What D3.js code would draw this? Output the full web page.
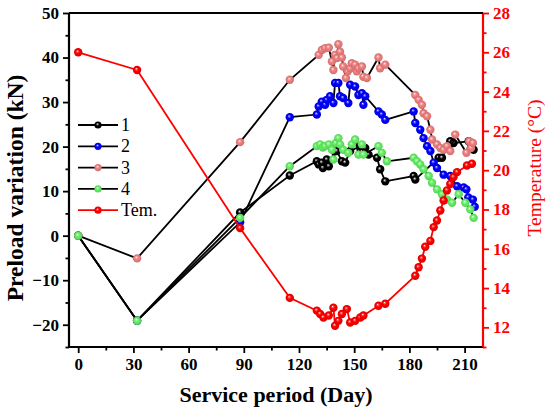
<!DOCTYPE html>
<html>
<head>
<meta charset="utf-8">
<script src="https://cdn.jsdelivr.net/npm/d3@7"></script>
<style>
  body { margin: 0; background: #fff; }
  text { font-family: "Liberation Serif", "Times New Roman", serif; }
</style>
</head>
<body>
<svg id="chart"></svg>
<script>
var width = 550;
var height = 413;

// series 1 (black markers)
var days1 = [0, 32, 88, 115, 129.7, 130.7, 132.4, 133, 135.1, 136.2, 140.6, 143.3, 145.1, 147.8, 153.3, 156, 157.8, 162.4, 164.1, 166.9, 182.3, 183.2, 195.9, 197.7, 202.2, 204, 212.2, 214, 214.9];
var vals1 = [0, -19.1, 5.2, 13.5, 16.7, 16.0, 16.4, 15.2, 17.1, 15.6, 19.0, 16.7, 16.4, 19.0, 20.1, 19.7, 18.2, 17.5, 14.9, 12.2, 13.4, 12.6, 17.5, 17.5, 21.2, 20.8, 21.2, 20.5, 19.3];

// series 2 (blue)
var days2 = [0, 32, 88, 115, 129.7, 130.7, 132.4, 134.2, 135.1, 136.9, 138.7, 139.6, 141.4, 142.3, 144, 146.8, 147.8, 150.5, 152.3, 154.2, 155, 156, 163.2, 165, 166.9, 182.3, 183.2, 185.9, 187.7, 189.6, 191.4, 193.2, 195, 198.6, 202.2, 205.9, 209.5, 211, 212, 214.5, 215.5];
var vals2 = [0, -19.1, 3.0, 26.6, 27.2, 29.0, 30.1, 29.4, 30.5, 31.3, 29.8, 34.3, 34.3, 31.3, 30.9, 29.8, 33.9, 33.5, 31.6, 32.0, 29.4, 31.3, 27.9, 27.2, 26.0, 27.9, 25.3, 23.8, 21.9, 20.1, 19.0, 16.4, 15.2, 13.7, 13.4, 11.1, 10.8, 10.4, 8.6, 8.1, 6.5];

// series 3 (pink)
var days3 = [0, 32, 88, 115, 130.7, 132.4, 134.2, 136.2, 137.9, 138.7, 139.5, 140.6, 141.4, 142.3, 143.3, 144, 145.5, 146.5, 147.8, 148.7, 150.5, 151.4, 152.3, 154.2, 155, 156.9, 163.2, 164.1, 166.9, 183.2, 185, 186.8, 187.7, 189.6, 191.4, 192.3, 195, 196.8, 198.6, 200.4, 202.2, 204.9, 211, 212.5, 213.5, 214.5];
var vals3 = [0, -5.1, 21.0, 35.0, 40.6, 41.7, 42.1, 42.2, 39.1, 37.2, 40.6, 39.9, 43.0, 41.3, 40.0, 38.0, 35.4, 36.9, 37.6, 38.7, 38.4, 36.9, 37.6, 38.0, 35.7, 35.4, 40.0, 37.6, 38.4, 31.6, 30.5, 29.4, 27.5, 26.8, 23.8, 21.6, 20.5, 19.7, 19.3, 20.1, 19.0, 22.7, 18.6, 21.2, 19.7, 20.8];

// series 4 (green)
var days4 = [0, 32, 88, 115, 129.7, 131.5, 133, 134.2, 136.2, 137.9, 138.7, 140, 141.4, 142.3, 144, 146.8, 148.7, 150.5, 152.3, 154.2, 155, 163.2, 165, 167.8, 182.3, 184.1, 185.9, 187.7, 190.5, 192.3, 195, 197.7, 200.4, 203.2, 206.8, 210.4, 213.1, 214.9];
var vals4 = [0, -19.1, 4.0, 15.6, 20.1, 20.5, 19.8, 20.1, 20.5, 19.3, 17.1, 20.8, 21.9, 20.5, 19.3, 18.6, 20.5, 21.6, 18.2, 20.5, 18.2, 20.1, 18.6, 16.7, 17.5, 16.7, 16.0, 14.9, 13.4, 11.9, 10.4, 9.3, 8.1, 7.4, 9.3, 7.4, 5.9, 4.0];

// temperature (right axis)
var daysT = [0, 32, 88, 115, 129.7, 131.5, 133.3, 136.2, 138.7, 139.6, 141.4, 143.3, 146, 147.8, 150.5, 153.3, 155, 163.2, 166.9, 183.2, 185, 186.8, 188.6, 191.4, 193.2, 195, 196.8, 198.6, 200.4, 202.2, 204, 205.9, 211.3, 214];
var valsT = [26.0, 25.1, 17.05, 13.5, 12.85, 12.68, 12.5, 12.6, 13.0, 12.08, 12.33, 12.68, 12.93, 12.25, 12.33, 12.5, 12.6, 13.1, 13.2, 14.63, 15.06, 15.5, 16.1, 16.4, 17.1, 17.44, 17.95, 18.46, 18.97, 19.3, 19.65, 19.9, 20.24, 20.33];

var xTicks = [0, 30, 60, 90, 120, 150, 180, 210];
var yTicks = [-20, -10, 0, 10, 20, 30, 40, 50];
var tTicks = [12, 14, 16, 18, 20, 22, 24, 26, 28];
var legendLabels = ['1', '2', '3', '4', 'Tem.'];
var colors = ['#000000', '#0000ff', '#f08080', '#66f066', '#ff0000'];

var padL = 69, padR = 483, padT = 13, padB = 347;

var svg = d3.select('#chart').attr('width', width).attr('height', height);

var x = d3.scaleLinear().domain([-5, 220]).range([padL, padR]);
var y = d3.scaleLinear().domain([-25, 50]).range([padB, padT]);
var yT = d3.scaleLinear().domain([11, 28]).range([padB, padT]);

// gradients for the shiny ball markers
var defs = svg.append('defs');
colors.forEach(function(c, i) {
  var g = defs.append('radialGradient').attr('id', 'ball' + i)
    .attr('cx', '50%').attr('cy', '50%').attr('r', '50%')
    .attr('fx', '40%').attr('fy', '35%');
  g.append('stop').attr('offset', '0%').attr('stop-color', '#ffffff');
  g.append('stop').attr('offset', '18%').attr('stop-color', i == 0 ? '#888' : d3.interpolateRgb(c, '#fff')(0.4));
  g.append('stop').attr('offset', '45%').attr('stop-color', c);
  g.append('stop').attr('offset', '100%').attr('stop-color', d3.color(c).darker(0.4));
});

// axes
var xAxis = d3.axisBottom(x).tickValues(d3.range(0, 220, 15)).tickSize(5).tickPadding(6)
  .tickFormat(function(d) { return xTicks.indexOf(d) >= 0 ? d : ''; });
var gx = svg.append('g').attr('transform', 'translate(0,' + padB + ')').call(xAxis);
gx.selectAll('.tick line').attr('y2', function(d) { return d % 30 == 0 ? 6 : 3.5; });

var yAxis = d3.axisLeft(y).tickValues(d3.range(-25, 51, 5)).tickSize(6).tickPadding(4)
  .tickFormat(function(d) { return yTicks.indexOf(d) >= 0 ? (d < 0 ? '\u2212' + (-d) : d) : ''; });
var gy = svg.append('g').attr('transform', 'translate(' + padL + ',0)').call(yAxis);
gy.selectAll('.tick line').attr('x2', function(d) { return d % 10 == 0 ? -6 : -3.5; });

var tAxis = d3.axisRight(yT).tickValues(d3.range(11, 28.1, 1)).tickSize(6).tickPadding(4)
  .tickFormat(function(d) { return tTicks.indexOf(d) >= 0 ? d : ''; });
var gt = svg.append('g').attr('transform', 'translate(' + padR + ',0)').call(tAxis);
gt.selectAll('.tick line').attr('x2', function(d) { return d % 2 == 0 ? 6 : 3.5; });

[gx, gy, gt].forEach(function(g) {
  g.selectAll('text').style('font-family', '"Liberation Serif", serif')
    .style('font-size', '17px').style('font-weight', 'bold');
  g.select('.domain').attr('stroke-width', 2.2);
  g.selectAll('.tick line').attr('stroke-width', 1.8);
});
gt.select('.domain').attr('stroke', '#ff0000');
gt.selectAll('.tick line').attr('stroke', '#ff0000');
gt.selectAll('text').attr('fill', '#ff0000');
gx.select('.domain').attr('d', 'M' + padL + ',0H' + padR);
gy.select('.domain').attr('d', 'M0,' + padT + 'V' + padB);
gt.select('.domain').attr('d', 'M0,' + padT + 'V' + padB);

// top frame line
svg.append('line').attr('x1', padL).attr('x2', padR).attr('y1', padT).attr('y2', padT)
  .attr('stroke', '#000').attr('stroke-width', 2.2);

// axis titles
svg.append('text').attr('x', (padL + padR) / 2).attr('y', 402)
  .attr('text-anchor', 'middle').style('font-size', '22px').style('font-weight', 'bold')
  .text('Service period (Day)');
svg.append('text').attr('transform', 'translate(23,188) rotate(-90)')
  .attr('text-anchor', 'middle').style('font-size', '23.5px').style('font-weight', 'bold')
  .text('Preload variation (kN)');
svg.append('text').attr('transform', 'translate(541,168) rotate(-90)')
  .attr('text-anchor', 'middle').style('font-size', '19.5px').attr('fill', '#ff0000')
  .text('Temperature (\u00b0C)');

// series
var series = [
  { days: days1, vals: vals1, scale: y, line: '#000' },
  { days: days2, vals: vals2, scale: y, line: '#000' },
  { days: days3, vals: vals3, scale: y, line: '#000' },
  { days: days4, vals: vals4, scale: y, line: '#000' },
  { days: daysT, vals: valsT, scale: yT, line: '#ff0000' }
];

series.forEach(function(s, i) {
  var pts = s.days.map(function(d, j) { return [d, s.vals[j]]; });
  var line = d3.line().x(function(d) { return x(d[0]); }).y(function(d) { return s.scale(d[1]); });
  var g = svg.append('g');
  g.append('path').datum(pts).attr('d', line).attr('fill', 'none')
    .attr('stroke', s.line).attr('stroke-width', 1.8);
  g.selectAll('circle').data(pts).enter().append('circle')
    .attr('cx', function(d) { return x(d[0]); })
    .attr('cy', function(d) { return s.scale(d[1]); })
    .attr('r', 4.2)
    .attr('fill', 'url(#ball' + i + ')');
});

// legend
var leg = svg.append('g');
legendLabels.forEach(function(l, i) {
  var yy = 125 + i * 21.3;
  leg.append('line').attr('x1', 78).attr('x2', 118).attr('y1', yy).attr('y2', yy)
    .attr('stroke', i == 4 ? '#ff0000' : '#000').attr('stroke-width', 1.8);
  leg.append('circle').attr('cx', 98).attr('cy', yy).attr('r', 3.6).attr('fill', 'url(#ball' + i + ')');
  leg.append('text').attr('x', 121).attr('y', yy + 6).style('font-size', '18px').text(l);
});
</script>
</body>
</html>
